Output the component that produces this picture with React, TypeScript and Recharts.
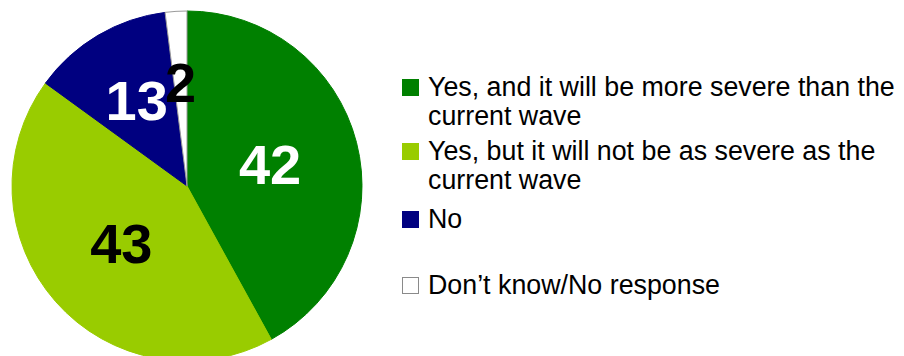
import React from "react";
import { PieChart, Pie, Cell, Legend } from "recharts";

const categories = [
  "Yes, and it will be more severe than the current wave",
  "Yes, but it will not be as severe as the current wave",
  "No",
  "Don\u2019t know/No response",
];
const values = [42, 43, 13, 2];

const fills = ["#008000", "#99CC00", "#000080", "#FFFFFF"];
const strokes = ["#008000", "#99CC00", "#000080", "#9a9a9a"];
const labelColors = ["#FFFFFF", "#000000", "#FFFFFF", "#000000"];
const labelRadiusFactor = [0.49, 0.5, 0.565, 0.59];
const legendSlotHeights = [64, 68, 66, 66];

const FONT = "'Liberation Sans', Arial, Helvetica, sans-serif";

const data = categories.map((name, i) => ({ name, value: values[i] }));

const RAD = Math.PI / 180;

const renderLabel = (props: any) => {
  const { cx, cy, midAngle, outerRadius, index, value } = props;
  const r = outerRadius * labelRadiusFactor[index];
  const x = cx + r * Math.cos(-midAngle * RAD);
  const y = cy + r * Math.sin(-midAngle * RAD);
  return (
    <text
      x={x}
      y={y}
      fill={labelColors[index]}
      textAnchor="middle"
      dominantBaseline="central"
      fontFamily={FONT}
      fontWeight="bold"
      fontSize={56}
    >
      {value}
    </text>
  );
};

const renderLegend = () => (
  <div style={{ fontFamily: FONT, fontSize: 26.8, lineHeight: "29px", color: "#000" }}>
    {data.map((d, i) => (
      <div
        key={d.name}
        style={{ position: "relative", height: legendSlotHeights[i], paddingLeft: 26 }}
      >
        <div
          style={{
            position: "absolute",
            left: 0,
            top: 6,
            width: 17,
            height: 17,
            boxSizing: "border-box",
            background: fills[i],
            border: i === 3 ? "1px solid #8a8a8a" : "none",
          }}
        />
        <div style={{ width: 476 }}>{d.name}</div>
      </div>
    ))}
  </div>
);

export default function App() {
  return (
    <div style={{ position: "absolute", left: 0, top: 0, background: "#fff" }}>
      <PieChart width={904} height={356} margin={{ top: 0, right: 0, bottom: 0, left: 0 }}>
        <Pie
          data={data}
          dataKey="value"
          nameKey="name"
          cx={187}
          cy={186}
          outerRadius={175}
          startAngle={90}
          endAngle={-270}
          isAnimationActive={false}
          labelLine={false}
          label={renderLabel}
        >
          {data.map((d, i) => (
            <Cell key={d.name} fill={fills[i]} stroke={strokes[i]} strokeWidth={1} />
          ))}
        </Pie>
        <Legend
          content={renderLegend}
          wrapperStyle={{ position: "absolute", left: 402, top: 73, width: 502, bottom: "auto" }}
        />
      </PieChart>
    </div>
  );
}
